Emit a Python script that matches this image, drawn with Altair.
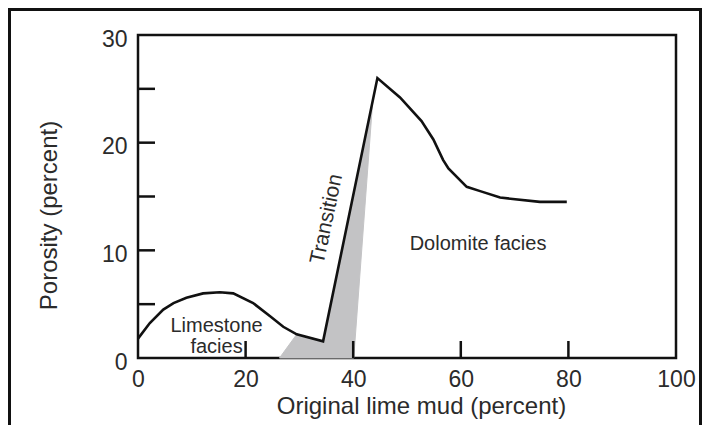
import altair as alt
import pandas as pd

# ---- data ----
curve_x = [0, 2.2, 4.7, 6.6, 9.0, 12.1, 15.2, 17.7, 21.4, 24.5, 27.0, 29.5, 34.4,
           44.5, 48.7, 52.7, 54.9, 56.7, 57.7, 61.1, 63.6, 67.3, 74.7, 79.7]
curve_y = [1.8, 3.25, 4.5, 5.1, 5.6, 6.0, 6.1, 6.0, 5.1, 3.9, 2.9, 2.2, 1.55,
           26.0, 24.2, 22.0, 20.3, 18.4, 17.6, 15.9, 15.5, 14.9, 14.5, 14.5]

shade_x = [26.3, 29.5, 34.4, 43.65, 40.1]
shade_y = [0, 2.2, 1.55, 24.0, 0]

x_tick_values = [20, 40, 60, 80]
y_tick_values = [5, 10, 15, 20, 25]
x_label_values = [0, 20, 40, 60, 80, 100]
y_label_values = [0, 10, 20, 30]

text_labels = ["Limestone\nfacies", "Dolomite facies"]
text_x = [14.6, 63.2]
text_y = [2.95, 10.6]

rot_label = ["Transition"]
rot_x = [35.1]
rot_y = [12.9]

FONT = "Liberation Sans"
INK = "#111111"
TXT = "#2b2b2b"
W, H = 538, 323

curve = pd.DataFrame({"x": curve_x, "y": curve_y, "i": range(len(curve_x))})
shade = pd.DataFrame({"x": shade_x, "y": shade_y, "i": range(len(shade_x))})
labels = pd.DataFrame({"x": text_x, "y": text_y, "t": text_labels})
rot = pd.DataFrame({"x": rot_x, "y": rot_y, "t": rot_label})
xt = pd.DataFrame({"v": x_tick_values})
yt = pd.DataFrame({"v": y_tick_values})

xscale = alt.Scale(domain=[0, 100], nice=False, zero=False)
yscale = alt.Scale(domain=[0, 30], nice=False, zero=False)

xaxis = alt.Axis(values=x_label_values, ticks=False, domain=False, grid=False,
                 labelFlush=False,
                 labelFontSize=23, labelFont=FONT, labelColor=TXT, labelPadding=10,
                 title="Original lime mud (percent)", titleFontSize=24, titleFont=FONT,
                 titleColor=TXT, titleFontWeight="normal", titleX=283, titleY=55,
                 titleBaseline="alphabetic", titleAlign="center")
yaxis = alt.Axis(values=y_label_values, ticks=False, domain=False, grid=False,
                 labelFlush=False,
                 labelFontSize=23, labelFont=FONT, labelColor=TXT, labelPadding=11,
                 labelOffset=4,
                 title="Porosity (percent)", titleFontSize=24, titleFont=FONT,
                 titleColor=TXT, titleFontWeight="normal", titleX=-82, titleY=180,
                 titleBaseline="alphabetic", titleAlign="center", titleAngle=270)

shade_layer = alt.Chart(shade).mark_line(
    interpolate="linear-closed", fill="#c3c3c5", stroke="#c3c3c5", strokeWidth=1
).encode(
    x=alt.X("x:Q", scale=xscale, axis=xaxis),
    y=alt.Y("y:Q", scale=yscale, axis=yaxis),
    order="i:Q",
)

line_layer = alt.Chart(curve).mark_line(
    color=INK, strokeWidth=2.6, strokeJoin="miter"
).encode(
    x=alt.X("x:Q", scale=xscale),
    y=alt.Y("y:Q", scale=yscale),
    order="i:Q",
)

text_layer = alt.Chart(labels).mark_text(
    font=FONT, fontSize=20, color=TXT, align="center", baseline="middle",
    lineBreak="\n", lineHeight=21
).encode(
    x=alt.X("x:Q", scale=xscale),
    y=alt.Y("y:Q", scale=yscale),
    text="t:N",
)

rot_layer = alt.Chart(rot).mark_text(
    font=FONT, fontSize=21, color=TXT, align="center", baseline="middle", angle=282
).encode(
    x=alt.X("x:Q", scale=xscale),
    y=alt.Y("y:Q", scale=yscale),
    text="t:N",
)

xtick_layer = alt.Chart(xt).mark_rule(color=INK, strokeWidth=2.5).encode(
    x=alt.X("v:Q", scale=xscale),
    y=alt.value(H - 17),
    y2=alt.value(H),
)
ytick_layer = alt.Chart(yt).mark_rule(color=INK, strokeWidth=2.5).encode(
    y=alt.Y("v:Q", scale=yscale),
    x=alt.value(0),
    x2=alt.value(17),
)

frame = alt.Chart(pd.DataFrame({"a": [0]})).mark_rect(
    filled=False, stroke=INK, strokeWidth=3
).encode(
    x=alt.value(-128.5), x2=alt.value(562.5),
    y=alt.value(-25.5), y2=alt.value(420),
)

chart = alt.layer(
    shade_layer, line_layer, text_layer, rot_layer, xtick_layer, ytick_layer, frame
).properties(
    width=W, height=H,
    autosize=alt.AutoSizeParams(type="none"),
    padding={"left": 130, "top": 27, "right": 26, "bottom": 67},
    background="white",
).configure_view(
    stroke=INK, strokeWidth=2.5
)

chart.save("out.html", embed_options={"renderer": "svg", "actions": False})
